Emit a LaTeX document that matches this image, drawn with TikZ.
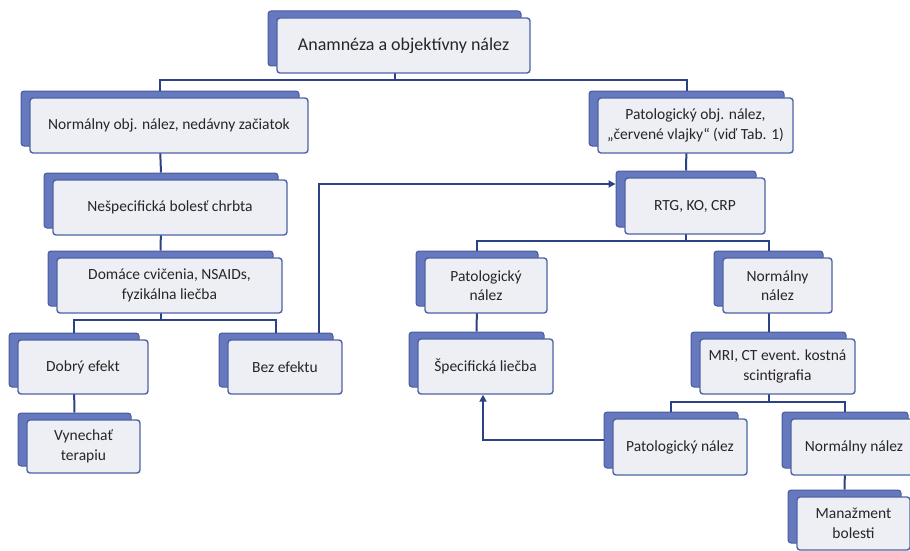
\documentclass[tikz,border=0pt]{standalone}
\usepackage{fontspec}
\setmainfont{Carlito}
\usetikzlibrary{arrows.meta,calc}
\definecolor{frontfill}{HTML}{EEEEF5}
\definecolor{frontdraw}{HTML}{4E64A6}
\definecolor{shadfill}{HTML}{6678BE}
\definecolor{shaddraw}{HTML}{4A5B9C}
\definecolor{linecol}{HTML}{2C4286}
\definecolor{txt}{HTML}{262626}
\pgfdeclarelayer{shadl}
\pgfdeclarelayer{connl}
\pgfsetlayers{shadl,connl,main}
\tikzset{
  frontbox/.style={draw=frontdraw, fill=frontfill, line width=1.4pt, rounded corners=3pt,
    align=center, text=txt, inner sep=2pt, font=\fontsize{15.5}{19.5}\selectfont},
  shadbox/.style={draw=shaddraw, fill=shadfill, line width=1pt, rounded corners=3pt, inner sep=0pt},
  conn/.style={draw=linecol, line width=2pt},
  arr/.style={conn, -{Triangle[length=7pt,width=7pt]}},
}
\newcommand\flowbox[6]{%
  \begin{pgfonlayer}{shadl}
  \node[shadbox, minimum width={#4-#2}, minimum height={#5-#3}] (#1s) at ({(#2+#4)/2-9},{(#3+#5)/2-7}) {};
  \end{pgfonlayer}
  \node[frontbox, minimum width={#4-#2}, minimum height={#5-#3}] (#1) at ({(#2+#4)/2},{(#3+#5)/2}) {#6};
}
\begin{document}
\begin{tikzpicture}[x=1pt, y=-1pt]
\useasboundingbox (0,0) rectangle (910,551);
\flowbox{top}{277}{18}{530}{73}{\fontsize{18}{22}\selectfont Anamnéza a objektívny nález}
\flowbox{norm}{30}{98}{308}{153}{Normálny obj. nález, nedávny začiatok}
\flowbox{pat}{598}{98}{793}{153}{Patologický obj. nález,\\„červené vlajky“ (viď Tab. 1)}
\flowbox{nesp}{53}{180}{287}{235}{Nešpecifická bolesť chrbta}
\flowbox{rtg}{625}{178}{765}{234}{RTG, KO, CRP}
\flowbox{dom}{57}{258}{282}{313}{Domáce cvičenia, NSAIDs,\\fyzikálna liečba}
\flowbox{pmid}{425}{258}{547}{313}{Patologický\\nález}
\flowbox{nmid}{723}{258}{832}{313}{Normálny\\nález}
\flowbox{dob}{18}{340}{148}{394}{Dobrý efekt}
\flowbox{bez}{228}{340}{342}{394}{Bez efektu}
\flowbox{spec}{418}{339}{553}{394}{Špecifická liečba}
\flowbox{mri}{700}{339}{855}{394}{MRI, CT event. kostná\\scintigrafia}
\flowbox{vyn}{27}{420}{140}{473}{Vynechať\\terapiu}
\flowbox{pbot}{613}{419}{747}{475}{Patologický nález}
\flowbox{nbot}{791}{419}{917}{475}{Normálny nález}
\flowbox{man}{797}{497}{910}{550}{Manažment\\bolesti}
\coordinate (bar1) at (0,80);
\coordinate (bar2) at (0,320);
\coordinate (bar3) at (0,241);
\coordinate (bar4) at (0,402);
\coordinate (c1) at (319,184);
\begin{pgfonlayer}{connl}
\draw[conn] (tops.south) -- (tops.south |- bar1);
\draw[conn] (norms.north) -- (norms.north |- bar1) -- (pats.north |- bar1) -- (pats.north);
\draw[conn] (norms.south) -- (nesps.north);
\draw[conn] (nesps.south) -- (doms.north);
\draw[conn] (doms.south) -- (doms.south |- bar2);
\draw[conn] (dobs.north) -- (dobs.north |- bar2) -- (bezs.north |- bar2) -- (bezs.north);
\draw[conn] (dobs.south) -- (vyns.north);
\draw[arr] (bezs.north -| c1) -- (c1) -- (rtgs.west |- c1);
\draw[conn] (pats.south) -- (rtgs.north);
\draw[conn] (rtgs.south) -- (rtgs.south |- bar3);
\draw[conn] (pmids.north) -- (pmids.north |- bar3) -- (nmids.north |- bar3) -- (nmids.north);
\draw[conn] (pmids.south) -- (specs.north);
\draw[conn] (nmids.south) -- (mris.north);
\draw[conn] (mris.south) -- (mris.south |- bar4);
\draw[conn] (pbots.north) -- (pbots.north |- bar4) -- (nbots.north |- bar4) -- (nbots.north);
\draw[conn] (nbots.south) -- (mans.north);
\draw[arr] (pbots.west) -| ([xshift=-2.5pt]spec.south);
\end{pgfonlayer}
\end{tikzpicture}
\end{document}
